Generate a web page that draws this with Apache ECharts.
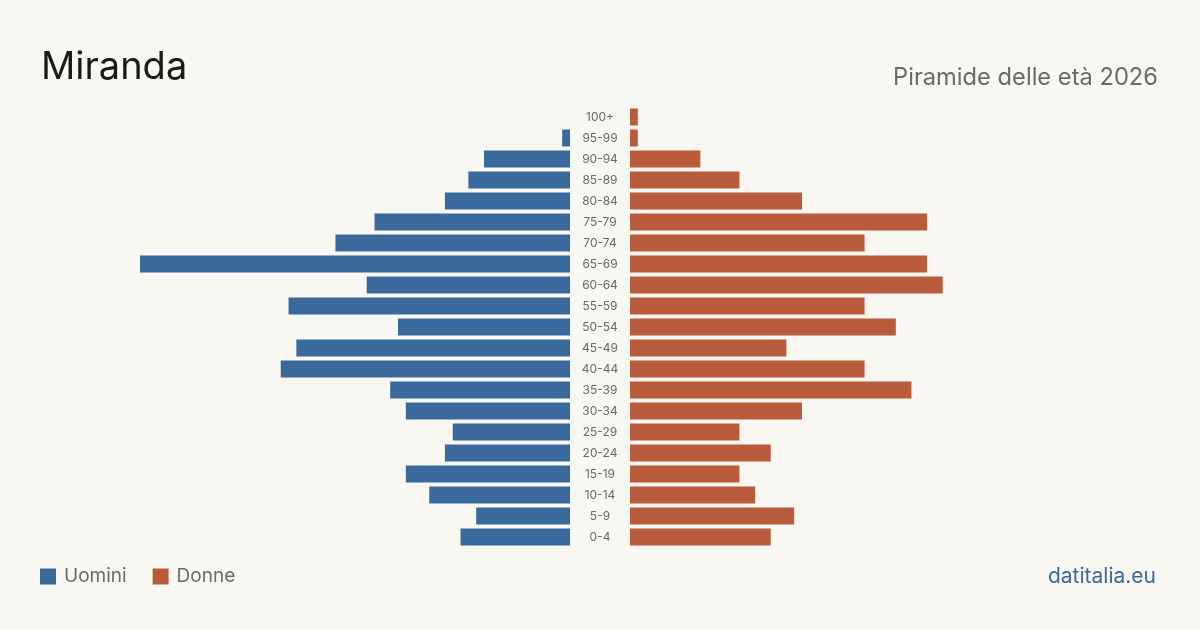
<!DOCTYPE html>
<html><head><meta charset="utf-8">
<script src="https://cdn.jsdelivr.net/npm/echarts@6/dist/echarts.min.js"></script>
<style>html,body{margin:0;padding:0;background:#f9f7f2;}#c{width:1200px;height:630px;}</style>
</head><body><div id="c"></div>
<script>
const ageGroups = ['0-4','5-9','10-14','15-19','20-24','25-29','30-34','35-39','40-44','45-49','50-54','55-59','60-64','65-69','70-74','75-79','80-84','85-89','90-94','95-99','100+'];
const men   = [14,12,18,21,16,15,21,23,37,35,22,36,26,55,30,25,16,13,11,1,0];
const women = [18,21,16,14,18,14,22,36,30,20,34,30,40,38,30,38,22,14,9,1,1];
const title = 'Miranda';
const subtitle = 'Piramide delle età 2026';
const source = 'datitalia.eu';
const BLUE = '#3a6a9c', RED = '#b95c3c';
const chart = echarts.init(document.getElementById('c'));
const FONT = 'Inter, "Noto Sans", sans-serif';
chart.setOption({
  backgroundColor: '#f9f7f2',
  animation: false,
  textStyle: { fontFamily: FONT },
  title: [
    { text: title, left: 41, top: 49, padding: 0, textStyle: { fontSize: 38, fontWeight: 'normal', color: '#1a1a1a', fontFamily: FONT } },
    { text: subtitle, right: 42, top: 66, padding: 0, textStyle: { fontSize: 23.7, fontWeight: 'normal', color: '#6a6a6a', fontFamily: FONT } },
    { text: source, right: 44, top: 566, padding: 0, textStyle: { fontSize: 21, fontWeight: 'normal', color: BLUE, fontFamily: FONT } }
  ],
  legend: {
    left: 40, top: 567, padding: 0, itemWidth: 16, itemHeight: 16, itemGap: 26,
    icon: 'rect',
    textStyle: { fontSize: 19, color: '#6a6a6a', fontFamily: FONT, padding: [0,0,0,3] },
    data: ['Uomini', 'Donne']
  },
  grid: [
    { left: 140, right: 630, top: 106.5, bottom: 82.5 },
    { left: 630, right: 140, top: 106.5, bottom: 82.5 }
  ],
  xAxis: [
    { gridIndex: 0, type: 'value', min: 0, max: 55, inverse: true, show: false },
    { gridIndex: 1, type: 'value', min: 0, max: 55, show: false }
  ],
  yAxis: [
    { gridIndex: 0, type: 'category', data: ageGroups, show: false },
    { gridIndex: 1, type: 'category', data: ageGroups, position: 'left',
      axisLine: { show: false }, axisTick: { show: false }, splitLine: { show: false },
      axisLabel: { align: 'center', margin: 30, fontSize: 12, color: '#6a6a6a', fontFamily: FONT } }
  ],
  series: [
    { name: 'Uomini', type: 'bar', xAxisIndex: 0, yAxisIndex: 0, data: men, barWidth: 17, itemStyle: { color: BLUE } },
    { name: 'Donne', type: 'bar', xAxisIndex: 1, yAxisIndex: 1, data: women, barWidth: 17, itemStyle: { color: RED } }
  ]
});
</script></body></html>
